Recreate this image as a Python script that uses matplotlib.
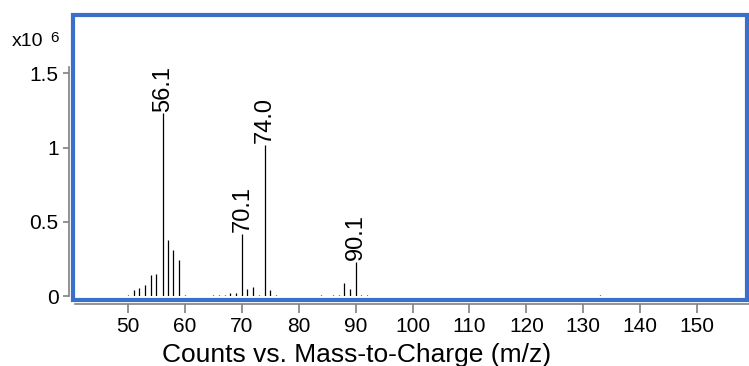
import matplotlib
matplotlib.use("Agg")
import matplotlib.pyplot as plt
from matplotlib.patches import Rectangle

plt.rcParams['font.family'] = ['Liberation Sans', 'DejaVu Sans']

# spectrum (m/z, counts x10^6)
mz = [50, 51, 52, 53, 54, 55, 56.1, 57, 58, 59, 60, 61, 62, 63, 64, 65, 66, 67,
      68, 69, 70.1, 71, 72, 73, 74.0, 75, 76, 78, 80, 82, 84, 86, 87, 88, 89,
      90.1, 91, 92, 96, 99, 101, 115, 117, 119, 133, 147]
counts = [0.005, 0.04, 0.055, 0.075, 0.14, 0.145, 1.23, 0.38, 0.31, 0.24, 0.01,
          0.003, 0.003, 0.003, 0.003, 0.004, 0.005, 0.005, 0.02, 0.02, 0.42,
          0.045, 0.06, 0.01, 1.02, 0.04, 0.005, 0.003, 0.003, 0.003, 0.004,
          0.01, 0.004, 0.085, 0.045, 0.23, 0.01, 0.004, 0.003, 0.003, 0.003,
          0.003, 0.003, 0.003, 0.005, 0.003]
labelled = ["56.1", "70.1", "74.0", "90.1"]

W, H = 749, 366
fig = plt.figure(figsize=(W / 100, H / 100), dpi=100)
ax = fig.add_axes([75 / W, (H - 296) / H, 674 / W, 282 / H])

ax.vlines(mz, 0, counts, color="black", lw=0.9)
for x, y in zip(mz, counts):
    s = "%.1f" % x
    if s in labelled:
        ax.annotate(s, (x, y), xytext=(0, 1), textcoords="offset points",
                    rotation=90, ha="center", va="bottom", fontsize=17)

ax.set_xlim(40.7, 159.1)
ax.set_ylim(0, 1.9)
ax.set_xticks(range(50, 151, 10))
ax.set_yticks([0, 0.5, 1, 1.5])
ax.set_yticklabels(["0", "0.5", "1", "1.5"])

for s in ["top", "right"]:
    ax.spines[s].set_visible(False)
ax.spines["left"].set_position(("outward", 4.3))
ax.spines["bottom"].set_position(("outward", 5.8))
ax.spines["left"].set_bounds(0, 1.54)
for s in ["left", "bottom"]:
    ax.spines[s].set_color("#808080")
    ax.spines[s].set_linewidth(1.2)
ax.tick_params(colors="#808080", labelcolor="black", labelsize=15, width=1.2)
ax.tick_params(axis="x", length=6.3, pad=3)
ax.tick_params(axis="y", length=4.5, pad=3)

fig.text(357 / W, (H - 362) / H, "Counts vs. Mass-to-Charge (m/z)",
         ha="center", va="baseline", fontsize=19)
fig.text(12 / W, (H - 42) / H, "x10", ha="left", va="center", fontsize=14)
fig.text(50 / W, (H - 38.5) / H, "6", ha="left", va="center", fontsize=11)

fig.patches.append(Rectangle((73 / W, (H - 300) / H), 674 / W, 285.5 / H,
                             transform=fig.transFigure, fill=False,
                             edgecolor="#3a6fcc", lw=3, zorder=5))

fig.savefig("out.png", dpi=100)
